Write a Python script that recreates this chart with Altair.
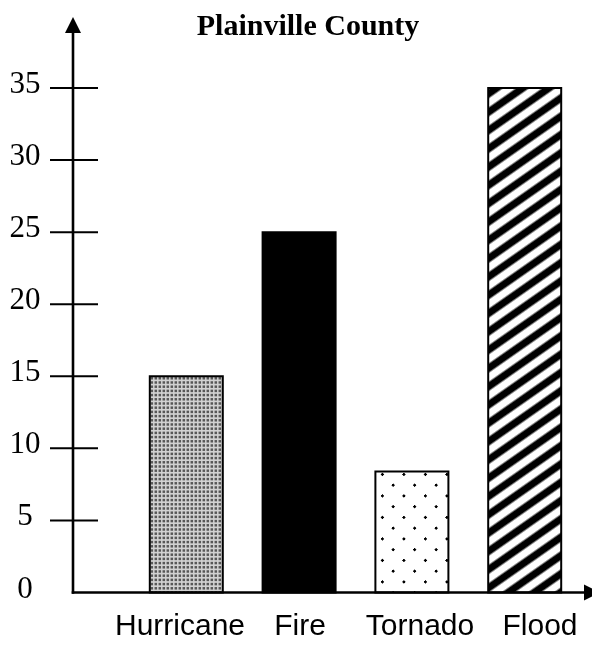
import math
import altair as alt
import pandas as pd

# ---- data ----
categories = ["Hurricane", "Fire", "Tornado", "Flood"]
values = [15, 25, 8.4, 35]
tick_values = [5, 10, 15, 20, 25, 30, 35]
label_values = [0, 5, 10, 15, 20, 25, 30, 35]
label_texts = ["0", "5", "10", "15", "20", "25", "30", "35"]
title_text = "Plainville County"

bars_df = pd.DataFrame({"event": categories, "count": values})
ticks_df = pd.DataFrame({"v": tick_values})
tlabels_df = pd.DataFrame({"v": label_values, "label": label_texts})
cat_df = pd.DataFrame({"event": categories})
one_df = pd.DataFrame({"a": [0]})

# ---- scales ----
Y0, Y35 = 584.5, 80.0
PX_PER_UNIT = (Y0 - Y35) / 35.0
yscale = alt.Scale(domain=[0, 35], range=[Y0, Y35], nice=False, zero=True)
bar_w = 73.0
xband = alt.Scale(domain=categories, range=[141.8, 553.2],
                  paddingInner=1 - bar_w / 112.8, paddingOuter=0)
xlab = alt.Scale(type="point", domain=categories, range=[172, 532], padding=0)


def _grey(f, ink=0):
    f = max(0.0, min(1.0, f))
    g = int(round(255 - (255 - ink) * f))
    return "#%02x%02x%02x" % (g, g, g)


def _profile(period, black, edge, phase):
    def frac(s):
        r = (s - phase) % period
        d = min(r, period - r)
        if d <= black / 2:
            return 1.0
        if d >= black / 2 + edge:
            return 0.0
        return 1 - (d - black / 2) / edge
    return frac


def _stops(smin, smax, period, black, edge, phase, ink):
    frac = _profile(period, black, edge, phase)
    L = smax - smin
    pts = [smin]
    k0 = math.floor((smin - phase) / period) - 1
    k1 = math.ceil((smax - phase) / period) + 1
    for k in range(k0, k1 + 1):
        c = phase + k * period
        for s in (c - black / 2 - edge, c - black / 2, c + black / 2, c + black / 2 + edge):
            if smin < s < smax:
                pts.append(s)
    pts.append(smax)
    pts = sorted(set(round(p, 4) for p in pts))
    return [alt.GradientStop(offset=round((s - smin) / L, 6), color=_grey(frac(s), ink)) for s in pts]


def stripe_gradient(w, h, m, period, black, edge, phase=0.0, ink=0):
    """Linear gradient drawing parallel stripes with isolines m*px + py = const."""
    am = abs(m)
    b = h * (am * w + h) / (m * m * w * w + h * h)
    dy = b
    dx = b * m * w / h
    if m >= 0:
        x1, y1, smin = 0.0, 0.0, 0.0
    else:
        x1, y1, smin = 1.0, 0.0, m * w
    smax = smin + am * w + h
    return alt.LinearGradient(gradient="linear", x1=x1, y1=y1,
                              x2=round(x1 + dx, 6), y2=round(y1 + dy, 6),
                              stops=_stops(smin, smax, period, black, edge, phase, ink))


def axis_stripes(length, vertical, period, black, edge, phase=0.0, ink=0):
    """Stripes perpendicular to x (vertical=True) or to y."""
    x2, y2 = (1, 0) if vertical else (0, 1)
    return alt.LinearGradient(gradient="linear", x1=0, y1=0, x2=x2, y2=y2,
                              stops=_stops(0.0, length, period, black, edge, phase, ink))


flood_h = 35 * PX_PER_UNIT
torn_h = values[2] * PX_PER_UNIT
hur_h = values[0] * PX_PER_UNIT

enc = dict(
    x=alt.X("event:N", scale=xband, axis=None),
    y=alt.Y("count:Q", scale=yscale, axis=None),
)
base_bar = alt.Chart(bars_df)


def one(cat):
    return alt.datum.event == cat


def outline(cat):
    return base_bar.mark_bar(fill="transparent", stroke="black", strokeWidth=2).encode(**enc).transform_filter(one(cat))


# hurricane: fine grey stipple = intersection of vertical and horizontal fine stripes
hur_a = base_bar.mark_bar(
    fill=axis_stripes(bar_w, True, 4.0, 1.5, 1.0, phase=2.0, ink=60), strokeWidth=0
).encode(**enc).transform_filter(one("Hurricane"))
hur_b = base_bar.mark_bar(
    fill=axis_stripes(hur_h, False, 4.2, 1.5, 1.0, phase=2.0, ink=60), strokeWidth=0, blend="screen"
).encode(**enc).transform_filter(one("Hurricane"))
hur_tint = base_bar.mark_bar(fill="#d2d2d2", strokeWidth=0, blend="multiply").encode(**enc).transform_filter(one("Hurricane"))

fire = base_bar.mark_bar(fill="black", stroke="black", strokeWidth=2).encode(**enc).transform_filter(one("Fire"))
flood = base_bar.mark_bar(
    fill=stripe_gradient(bar_w, flood_h, 0.7, 18.3, 6.5, 2.5, phase=6.0),
    stroke="black", strokeWidth=2,
).encode(**enc).transform_filter(one("Flood"))
# tornado: sparse staggered dots = intersection of two diagonal stripe families
torn_a = base_bar.mark_bar(
    fill=stripe_gradient(bar_w, torn_h, 1.0, 21.5, 2.6, 1.0, phase=10.0), strokeWidth=0
).encode(**enc).transform_filter(one("Tornado"))
torn_b = base_bar.mark_bar(
    fill=stripe_gradient(bar_w, torn_h, -1.0, 21.5, 2.6, 1.0, phase=-4.0), strokeWidth=0, blend="screen"
).encode(**enc).transform_filter(one("Tornado"))

ticks = alt.Chart(ticks_df).mark_rule(color="black", strokeWidth=2).encode(
    x=alt.value(42), x2=alt.value(90),
    y=alt.Y("v:Q", scale=yscale, axis=None),
)

tick_text = alt.Chart(tlabels_df).mark_text(
    font="Liberation Serif", fontSize=31, align="center", baseline="middle", dy=-4, color="black"
).encode(
    x=alt.value(17),
    y=alt.Y("v:Q", scale=yscale, axis=None),
    text="label:N",
)

yaxis = alt.Chart(one_df).mark_rule(color="black", strokeWidth=2.6).encode(
    x=alt.value(65), y=alt.value(20), y2=alt.value(585.8)
)
xaxis = alt.Chart(one_df).mark_rule(color="black", strokeWidth=2.6).encode(
    x=alt.value(63.7), x2=alt.value(580), y=alt.value(Y0)
)
yarrow = alt.Chart(one_df).mark_point(
    shape="M-1,1L0,-1L1,1Z", filled=True, fill="black", opacity=1, size=256
).encode(x=alt.value(65), y=alt.value(17))
xarrow = alt.Chart(one_df).mark_point(
    shape="M-1,-1L1,0L-1,1Z", filled=True, fill="black", opacity=1, size=256
).encode(x=alt.value(584), y=alt.value(Y0))

cat_labels = alt.Chart(cat_df).mark_text(
    font="Liberation Sans", fontSize=30, align="center", baseline="alphabetic", color="black"
).encode(
    x=alt.X("event:N", scale=xlab, axis=None),
    y=alt.value(627),
    text="event:N",
)

title = alt.Chart(one_df).mark_text(
    font="Liberation Serif", fontSize=30, fontWeight="bold", align="center",
    baseline="alphabetic", color="black"
).encode(x=alt.value(300), y=alt.value(27), text=alt.value(title_text))

chart = alt.layer(
    hur_a, hur_b, hur_tint, outline("Hurricane"),
    fire,
    torn_a, torn_b, outline("Tornado"),
    flood,
    ticks, tick_text, yaxis, xaxis, yarrow, xarrow, cat_labels, title
).resolve_scale(x="independent").properties(
    width=584, height=633, autosize=alt.AutoSizeParams(type="none"), padding=0
).configure_view(stroke=None)

chart.save("out.html", embed_options={"renderer": "svg", "actions": False})
